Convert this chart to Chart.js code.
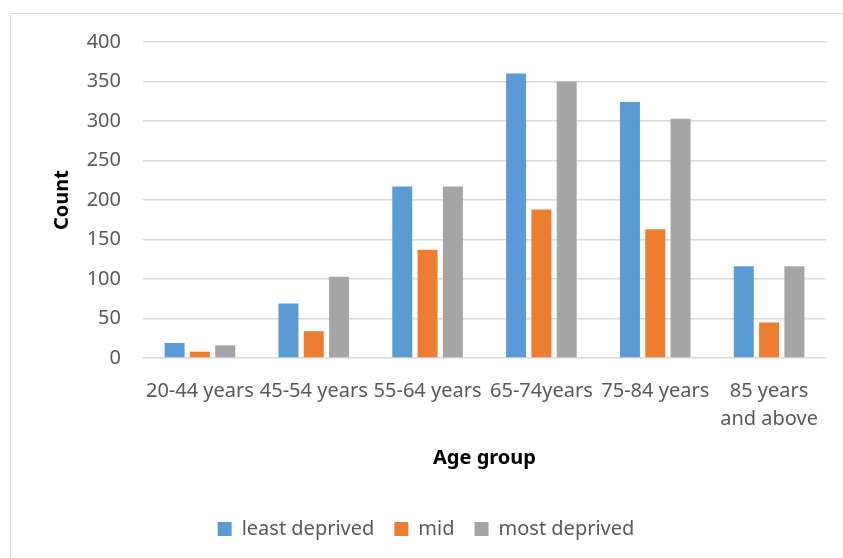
<!DOCTYPE html>
<html>
<head>
<meta charset="utf-8">
<script src="https://cdn.jsdelivr.net/npm/chart.js@4/dist/chart.umd.min.js"></script>
<style>
  html, body { margin: 0; padding: 0; background: #fff; overflow: hidden; }
  #wrap { position: relative; width: 843px; height: 558px; }
  #frame { position: absolute; left: 10px; top: 13px; width: 900px; height: 600px;
           border: 1px solid #d9d9d9; box-sizing: border-box; }
  canvas { position: absolute; left: 0; top: 0; }
</style>
</head>
<body>
<div id="wrap">
  <div id="frame"></div>
  <canvas id="chart" width="843" height="558"></canvas>
</div>
<script>
// Age groups on the x axis
const categories = ['20-44 years', '45-54 years', '55-64 years', '65-74years', '75-84 years', ['85 years', 'and above']];

// Counts per deprivation group
const leastDeprived = [19, 69, 217, 360, 324, 116];
const mid = [8, 34, 137, 188, 163, 45];
const mostDeprived = [16, 103, 217, 350, 303, 116];

// Y axis ticks
const yTicks = [0, 50, 100, 150, 200, 250, 300, 350, 400];

const FONT = "'Noto Sans', 'Open Sans', sans-serif";

new Chart(document.getElementById('chart'), {
  type: 'bar',
  data: {
    labels: categories,
    datasets: [
      { label: 'least deprived', data: leastDeprived, backgroundColor: '#5B9BD5' },
      { label: 'mid', data: mid, backgroundColor: '#ED7D31' },
      { label: 'most deprived', data: mostDeprived, backgroundColor: '#A5A5A5' }
    ]
  },
  options: {
    responsive: false,
    animation: false,
    devicePixelRatio: 1,
    layout: { padding: { top: 42, right: 17, left: 26, bottom: 9 } },
    datasets: { bar: { categoryPercentage: 0.667, barPercentage: 0.79 } },
    plugins: {
      tooltip: { enabled: false },
      legend: {
        position: 'bottom',
        labels: {
          boxWidth: 14, boxHeight: 14, padding: 20,
          color: '#595959',
          font: { family: FONT, size: 20 }
        }
      }
    },
    scales: {
      x: {
        grid: { display: false },
        border: { display: false },
        ticks: {
          color: '#595959', padding: 11, maxRotation: 0, minRotation: 0, autoSkip: false,
          font: { family: FONT, size: 20, lineHeight: 1.4 }
        },
        title: {
          display: true, text: 'Age group', color: '#000',
          font: { family: FONT, size: 20, weight: 'bold' },
          padding: { top: 4, bottom: 29 }
        },
        afterFit: (s) => { s.height = 141; }
      },
      y: {
        min: 0, max: 400,
        afterBuildTicks: (s) => { s.ticks = yTicks.map(v => ({ value: v })); },
        grid: { color: '#d9d9d9', lineWidth: 1.5, drawTicks: false },
        border: { display: false },
        ticks: {
          color: '#595959', padding: 22,
          font: { family: FONT, size: 20 }
        },
        title: {
          display: true, text: 'Count', color: '#000',
          font: { family: FONT, size: 20, weight: 'bold' },
          padding: { top: 24, bottom: 0 }
        },
        afterFit: (s) => { s.width = 117; }
      }
    }
  }
});
</script>
</body>
</html>
